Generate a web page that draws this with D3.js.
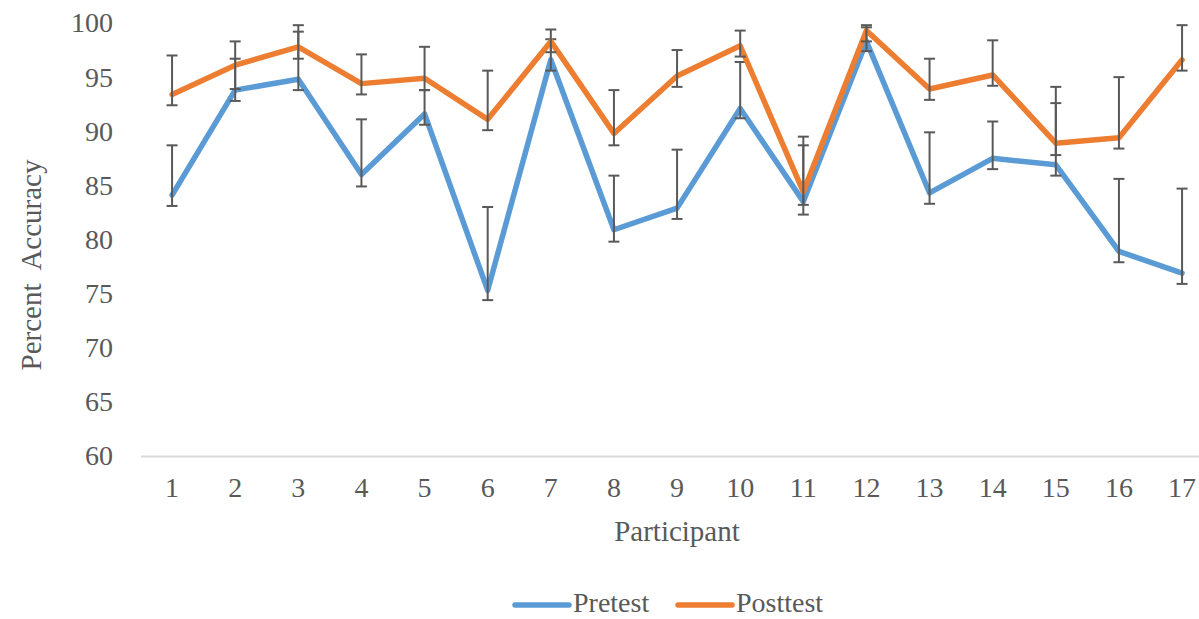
<!DOCTYPE html>
<html><head><meta charset="utf-8">
<script src="https://cdn.jsdelivr.net/npm/d3@7"></script>
<style>body{margin:0;background:#fff}svg{display:block}text{font-family:"Liberation Serif","Times New Roman",serif}</style>
</head><body>
<svg id="c" width="1199" height="619"></svg>
<script>
const participants = [1,2,3,4,5,6,7,8,9,10,11,12,13,14,15,16,17];
const pretest      = [84.1,93.8,94.8,86.0,91.6,75.3,96.6,80.9,82.9,92.1,83.5,98.3,84.3,87.5,86.9,78.9,76.9];
const pretestHigh  = [88.7,96.7,99.2,91.1,93.8,83.0,98.5,85.9,88.3,96.4,88.7,99.6,89.9,90.9,92.6,85.6,84.7];
const pretestLow   = [83.1,92.8,93.8,84.9,90.6,74.4,95.6,79.8,81.9,91.2,82.3,97.4,83.3,86.5,85.9,77.9,75.9];
const posttest     = [93.4,96.1,97.8,94.4,94.9,91.1,98.3,89.8,95.1,97.9,84.4,99.3,93.9,95.2,88.9,89.4,96.6];
const posttestHigh = [97.0,98.3,99.8,97.1,97.8,95.6,99.4,93.8,97.5,99.3,89.5,99.8,96.7,98.4,94.1,95.0,99.8];
const posttestLow  = [92.4,93.9,96.7,93.4,93.8,90.1,97.3,88.7,94.1,96.9,83.2,98.3,92.9,94.2,87.8,88.4,95.6];
const yTicks = [60,65,70,75,80,85,90,95,100];
const seriesNames = ["Pretest","Posttest"];
const colors = ["#5B9BD5","#ED7D31"];

const svg = d3.select("#c");
const x = d3.scaleBand().domain(participants).range([140.5, 140.5 + 17*63.125]).padding(0);
const y = d3.scaleLinear().domain([60,100]).range([456,23]);
const cx = d => x(d) + x.bandwidth()/2;
const txt = "#595959";
const fs = 28;

// y axis labels
const ya = svg.append("g").attr("transform","translate(141,0)")
  .call(d3.axisLeft(y).tickValues(yTicks).tickSize(0).tickPadding(28));
ya.select(".domain").remove();
ya.selectAll("text").attr("font-size",fs).attr("fill",txt).style("font-family","Liberation Serif");

// x axis
const xa = svg.append("g").attr("transform","translate(0,456)")
  .call(d3.axisBottom(x).tickSize(0).tickPadding(21));
xa.select(".domain").attr("stroke","#d9d9d9").attr("stroke-width",2);
xa.selectAll("text").attr("font-size",fs).attr("fill",txt).style("font-family","Liberation Serif");

// axis titles
svg.append("text").attr("x",677).attr("y",541).attr("text-anchor","middle")
  .attr("font-size",29).attr("fill",txt).text("Participant");
svg.append("text").attr("transform","translate(41,265) rotate(-90)").attr("text-anchor","middle")
  .attr("font-size",29).attr("fill",txt).attr("xml:space","preserve").text("Percent  Accuracy");

const series = [
  {vals: pretest, hi: pretestHigh, lo: pretestLow},
  {vals: posttest, hi: posttestHigh, lo: posttestLow}
];
const line = d3.line().x((d,i)=>cx(participants[i])).y(d=>y(d));

series.forEach((s,k)=>{
  svg.append("path").datum(s.vals).attr("d",line).attr("fill","none")
    .attr("stroke",colors[k]).attr("stroke-width",5.5).attr("stroke-linejoin","round").attr("stroke-linecap","round");
  const g = svg.append("g").attr("stroke","#595959").attr("stroke-width",2);
  participants.forEach((p,i)=>{
    const xx = cx(p);
    g.append("line").attr("x1",xx).attr("x2",xx).attr("y1",y(s.hi[i])).attr("y2",y(s.lo[i]));
    g.append("line").attr("x1",xx-5.5).attr("x2",xx+5.5).attr("y1",y(s.hi[i])).attr("y2",y(s.hi[i]));
    g.append("line").attr("x1",xx-5.5).attr("x2",xx+5.5).attr("y1",y(s.lo[i])).attr("y2",y(s.lo[i]));
  });
});

// legend
const leg = [[515,573],[678,736]];
seriesNames.forEach((n,k)=>{
  svg.append("line").attr("x1",leg[k][0]).attr("x2",leg[k][0]+54).attr("y1",605).attr("y2",605)
    .attr("stroke",colors[k]).attr("stroke-width",5.5).attr("stroke-linecap","round");
  svg.append("text").attr("x",leg[k][1]).attr("y",612).attr("font-size",fs).attr("fill",txt).text(n);
});
</script>
</body></html>
